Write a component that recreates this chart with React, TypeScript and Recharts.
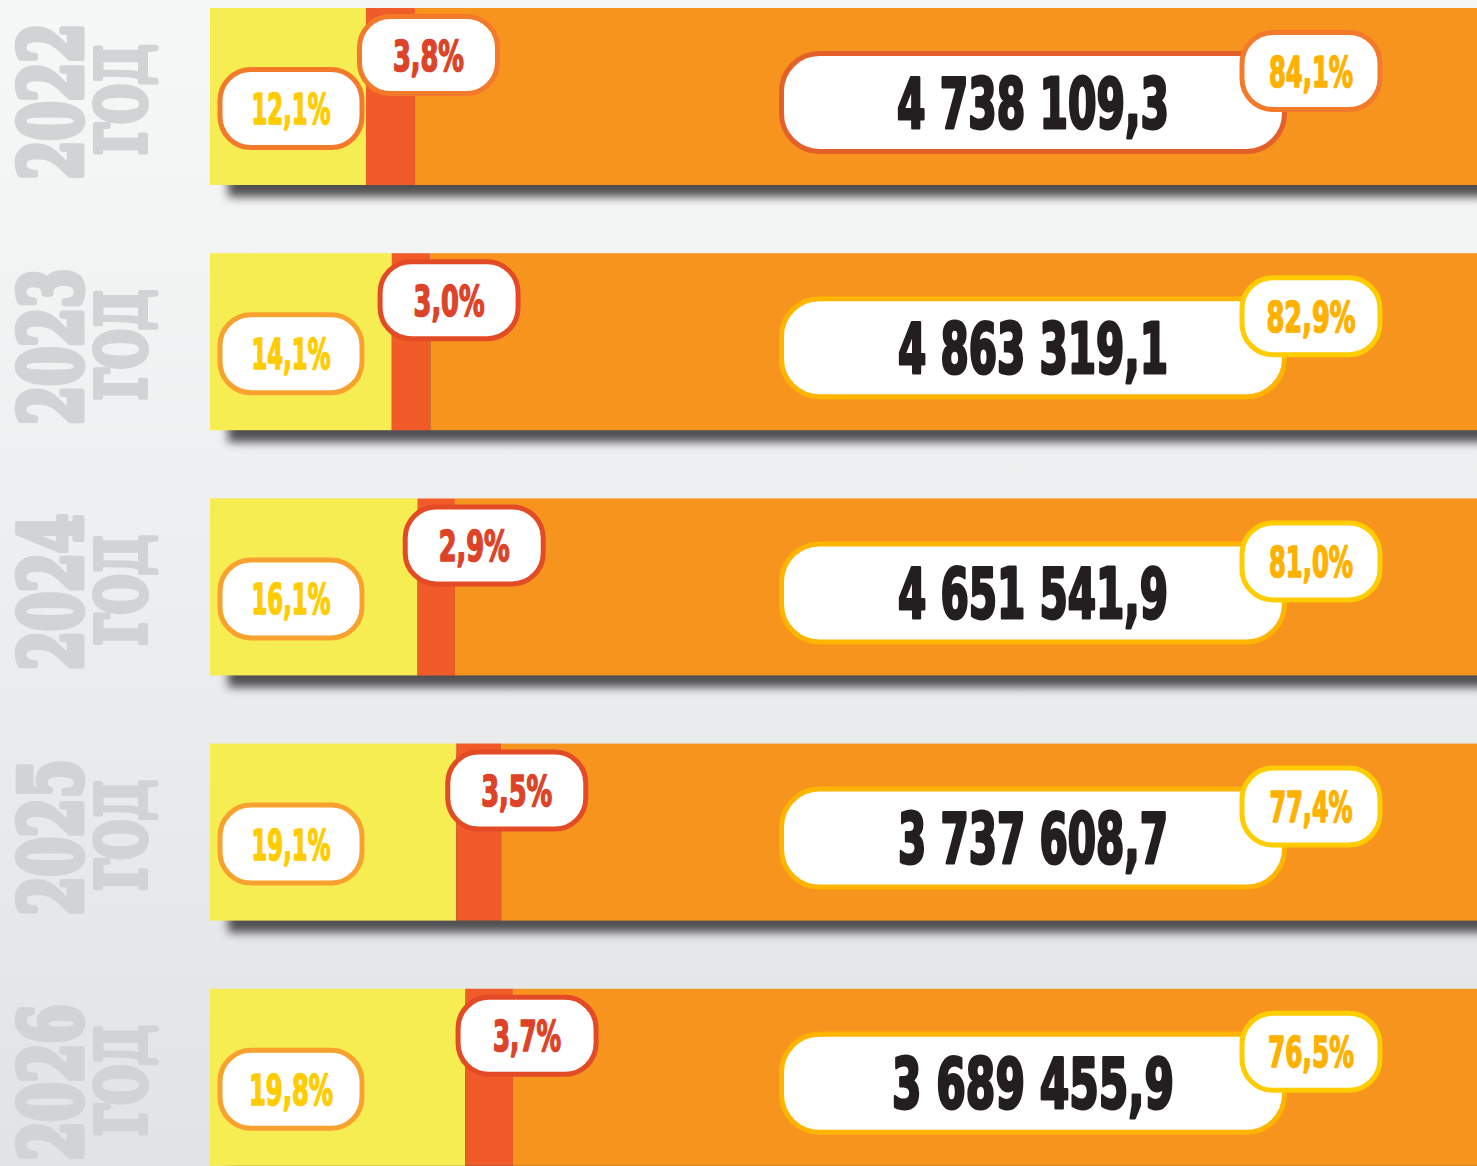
import React from 'react';
import { BarChart, Bar, XAxis, YAxis } from 'recharts';

// ---- data ----
const years = ['2022', '2023', '2024', '2025', '2026'];
const yearWord = 'ГОД';
const regionalShare = [12.1, 14.1, 16.1, 19.1, 19.8];
const localShare = [3.8, 3.0, 2.9, 3.5, 3.7];
const federalShare = [84.1, 82.9, 81.0, 77.4, 76.5];
const totals = ['4 738 109,3', '4 863 319,1', '4 651 541,9', '3 737 608,7', '3 689 455,9'];

const fmt = (v: number) => v.toFixed(1).replace('.', ',') + '%';

const data = years.map((y, i) => ({
  year: y,
  a: regionalShare[i],
  b: localShare[i],
  c: federalShare[i],
  total: totals[i],
}));

// ---- styles ----
const YELLOW = '#f6ed52';
const RED = '#f15a29';
const ORANGE = '#f7941e';
const NARROW = "'Liberation Sans Narrow', 'DejaVu Sans Condensed', 'Roboto', sans-serif";
const SLAB = "'DejaVu Serif', serif";
const GREY = '#d1d3d4';

const themeFirst = { pillA: '#f47a2b', pillB: '#f47a2b', box: '#e4602a', pillC: '#f47a2b' };
const themeRest = { pillA: '#f9a12e', pillB: '#e24b26', box: '#ffb400', pillC: '#ffcc00' };

const bigW: Record<string, number> = { d: 32, '1': 26, '7': 28, ' ': 8, ',': 10 };
const pctW: Record<string, number> = { d: 18, '1': 13, '7': 15, ',': 8, '%': 27 };
const measure = (s: string, w: Record<string, number>) => {
  let t = 0;
  for (const ch of s) t += ch in w ? w[ch] : w.d;
  return t;
};

function Pill(props: {
  cx: number; cy: number; w: number; h: number; rx: number; stroke: string;
  text: string; color: string; fs: number; cap: number; tw: number; heavy: number;
}) {
  const { cx, cy, w, h, rx, stroke, text, color, fs, cap, tw, heavy } = props;
  return (
    <g>
      <rect x={cx - w / 2} y={cy - h / 2} width={w} height={h} rx={rx} ry={rx}
        fill="#ffffff" stroke={stroke} strokeWidth={5} />
      <text x={cx} y={cy + cap / 2} textAnchor="middle" fontSize={fs} fontWeight="bold"
        fontFamily={NARROW} fill={color} stroke={color} strokeWidth={heavy}
        strokeLinejoin="round" textLength={tw} lengthAdjust="spacingAndGlyphs">
        {text}
      </text>
    </g>
  );
}

function YellowShape(p: any) {
  const { x, y, width, height } = p;
  return (
    <g>
      <rect x={x + 18} y={y + 12} width={2000} height={height} fill="#505052"
        style={{ filter: 'blur(5px)' }} />
      <rect x={x} y={y} width={width} height={height} fill={YELLOW} />
    </g>
  );
}

function OrangeShape(p: any) {
  const { x, y, width, height, index, payload } = p;
  const ppu = width / payload.c;
  const end = x + width;
  const redStart = x - payload.b * ppu;
  const redW = payload.b * ppu;
  const barStart = redStart - payload.a * ppu;
  const cy = y + height / 2;
  const th = index === 0 ? themeFirst : themeRest;
  const pa = fmt(payload.a);
  const pb = fmt(payload.b);
  const pc = fmt(payload.c);
  return (
    <g>
      <rect x={x} y={y} width={width + 40} height={height} fill={ORANGE} />
      {/* regional share pill */}
      <Pill cx={barStart + 81} cy={cy + 12} w={142} h={78} rx={31} stroke={th.pillA}
        text={pa} color="#ffcc00" fs={43} cap={31} tw={measure(pa, pctW)} heavy={1.6} />
      {/* local share pill */}
      <Pill cx={redStart + redW / 2 + 38} cy={y + 47} w={138} h={77} rx={31} stroke={th.pillB}
        text={pb} color="#dc4328" fs={43} cap={31} tw={measure(pb, pctW)} heavy={1.6} />
      {/* total box */}
      <Pill cx={end - 466} cy={cy + 6} w={503} h={98} rx={38} stroke={th.box}
        text={payload.total} color="#231f20" fs={69} cap={50} tw={measure(payload.total, bigW)} heavy={3} />
      {/* federal share pill */}
      <Pill cx={end - 188} cy={y + 63} w={138} h={77} rx={31} stroke={th.pillC}
        text={pc} color="#ffb100" fs={43} cap={31} tw={measure(pc, pctW)} heavy={1.6} />
    </g>
  );
}

function YearTick(p: any) {
  const cy = p.y;
  const year = p.payload.value;
  const y1 = cy + 5;
  const y2 = cy + 3;
  return (
    <g>
      <text x={81} y={y1} transform={`rotate(-90 81 ${y1})`} textAnchor="middle"
        fontSize={84} fontWeight="bold" fontFamily={SLAB} fill={GREY}
        stroke={GREY} strokeWidth={7} strokeLinejoin="round"
        textLength={156} lengthAdjust="spacingAndGlyphs">
        {year}
      </text>
      <text x={145} y={y2} transform={`rotate(-90 145 ${y2})`} textAnchor="middle"
        fontSize={67} fontWeight="bold" fontFamily={SLAB} fill={GREY}
        stroke={GREY} strokeWidth={6} strokeLinejoin="round"
        textLength={110} lengthAdjust="spacingAndGlyphs">
        {yearWord}
      </text>
    </g>
  );
}

export default function App() {
  return (
    <div style={{
      position: 'absolute', left: 0, top: 0, width: 1477, height: 1166, overflow: 'hidden',
      background: 'linear-gradient(180deg, #f6f7f7 0%, #eeeff0 45%, #e2e3e5 100%)',
    }}>
      <div style={{ position: 'absolute', left: 0, top: -26 }}>
        <BarChart width={1500} height={1226} data={data} layout="vertical"
          margin={{ top: 0, right: 1, bottom: 0, left: 0 }} barSize={177}>
          <XAxis type="number" domain={[0, 100]} hide />
          <YAxis type="category" dataKey="year" width={210} axisLine={false} tickLine={false}
            tick={<YearTick />} interval={0} />
          <Bar dataKey="a" stackId="s" fill={YELLOW} isAnimationActive={false} shape={<YellowShape />} />
          <Bar dataKey="b" stackId="s" fill={RED} isAnimationActive={false} />
          <Bar dataKey="c" stackId="s" fill={ORANGE} isAnimationActive={false} shape={<OrangeShape />} />
        </BarChart>
      </div>
    </div>
  );
}
